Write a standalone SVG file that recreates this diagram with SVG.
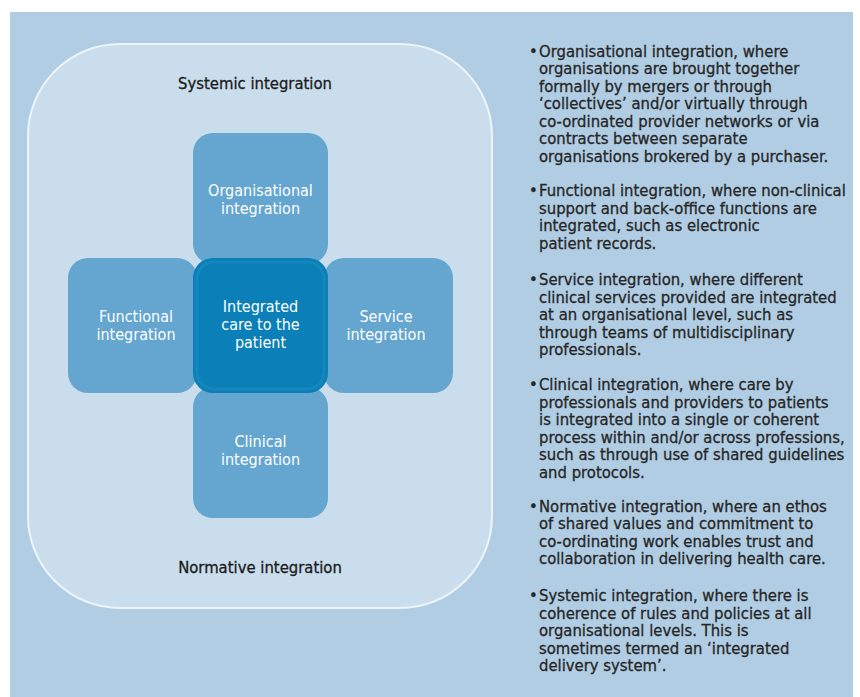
<svg xmlns="http://www.w3.org/2000/svg" width="860" height="697" viewBox="0 0 860 697">
  <style>
    text { font-family: "DejaVu Sans Condensed", "DejaVu Sans", sans-serif; font-size: 16.5px; }
    .white { fill: #ffffff; text-anchor: middle; font-size: 16px; }
    .title { fill: #1b1b1b; text-anchor: middle; stroke: #1b1b1b; stroke-width: 0.3px; }
    .body text { fill: #262626; stroke: #262626; stroke-width: 0.3px; }
    .node { fill: #64a6cf; }
    .core { fill: #0b7fb7; }
  </style>

  <!-- page panel -->
  <rect x="0" y="0" width="860" height="697" fill="#ffffff"/>
  <rect x="10" y="12" width="843" height="685" fill="#b1cde3"/>

  <!-- outer frame: systemic / normative context -->
  <g id="context">
    <rect x="28" y="44" width="464" height="564" rx="92" ry="92" fill="#c9ddec" stroke="#eef5fa" stroke-width="2"/>
    <text class="title" x="255" y="89">Systemic integration</text>
    <text class="title" x="260" y="573">Normative integration</text>
  </g>

  <!-- arms of the cross -->
  <g id="organisational">
    <rect class="node" x="193" y="133" width="135" height="131" rx="20"/>
    <text class="white" x="260.5" y="196">Organisational</text>
    <text class="white" x="260.5" y="214">integration</text>
  </g>
  <g id="functional">
    <rect class="node" x="68" y="258" width="129" height="135" rx="20"/>
    <text class="white" x="136" y="322">Functional</text>
    <text class="white" x="136" y="340">integration</text>
  </g>
  <g id="service">
    <rect class="node" x="324" y="258" width="129" height="135" rx="20"/>
    <text class="white" x="386" y="322">Service</text>
    <text class="white" x="386" y="340">integration</text>
  </g>
  <g id="clinical">
    <rect class="node" x="193" y="387" width="135" height="131" rx="20"/>
    <text class="white" x="260.5" y="447">Clinical</text>
    <text class="white" x="260.5" y="465">integration</text>
  </g>

  <!-- centre of the cross -->
  <g id="patient">
    <rect class="core" x="193" y="258" width="135" height="135" rx="20"/>
    <rect x="197" y="262" width="127" height="127" rx="17" fill="none" stroke="#2591c4" stroke-width="3" opacity="0.45"/>
    <text class="white" x="260.5" y="312">Integrated</text>
    <text class="white" x="260.5" y="330">care to the</text>
    <text class="white" x="260.5" y="348">patient</text>
  </g>

  <g id="connectors"></g>

  <!-- explanatory list -->
  <g id="definitions" class="body">
    <text x="529" y="56.5">•</text>
    <text x="539" y="56.5">Organisational integration, where</text>
    <text x="539" y="74">organisations are brought together</text>
    <text x="539" y="91.5">formally by mergers or through</text>
    <text x="539" y="109">‘collectives’ and/or virtually through</text>
    <text x="539" y="126.5">co-ordinated provider networks or via</text>
    <text x="539" y="144">contracts between separate</text>
    <text x="539" y="161.5">organisations brokered by a purchaser.</text>

    <text x="529" y="196">•</text>
    <text x="539" y="196">Functional integration, where non-clinical</text>
    <text x="539" y="213.5">support and back-office functions are</text>
    <text x="539" y="231">integrated, such as electronic</text>
    <text x="539" y="248.5">patient records.</text>

    <text x="529" y="285">•</text>
    <text x="539" y="285">Service integration, where different</text>
    <text x="539" y="302.5">clinical services provided are integrated</text>
    <text x="539" y="320">at an organisational level, such as</text>
    <text x="539" y="337.5">through teams of multidisciplinary</text>
    <text x="539" y="355">professionals.</text>

    <text x="529" y="390">•</text>
    <text x="539" y="390">Clinical integration, where care by</text>
    <text x="539" y="407.5">professionals and providers to patients</text>
    <text x="539" y="425">is integrated into a single or coherent</text>
    <text x="539" y="442.5">process within and/or across professions,</text>
    <text x="539" y="460">such as through use of shared guidelines</text>
    <text x="539" y="477.5">and protocols.</text>

    <text x="529" y="511.5">•</text>
    <text x="539" y="511.5">Normative integration, where an ethos</text>
    <text x="539" y="529">of shared values and commitment to</text>
    <text x="539" y="546.5">co-ordinating work enables trust and</text>
    <text x="539" y="564">collaboration in delivering health care.</text>

    <text x="529" y="601">•</text>
    <text x="539" y="601">Systemic integration, where there is</text>
    <text x="539" y="618.5">coherence of rules and policies at all</text>
    <text x="539" y="636">organisational levels. This is</text>
    <text x="539" y="653.5">sometimes termed an ‘integrated</text>
    <text x="539" y="671">delivery system’.</text>
  </g>
</svg>
